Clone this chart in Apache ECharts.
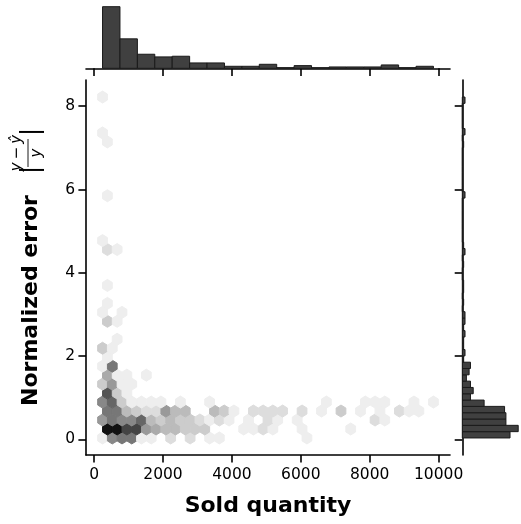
<!DOCTYPE html>
<html>
<head>
<meta charset="utf-8">
<script src="https://cdn.jsdelivr.net/npm/echarts@6/dist/echarts.min.js"></script>
<style>
  html, body { margin: 0; padding: 0; background: #ffffff; }
  #chart { width: 521px; height: 524px; }
</style>
</head>
<body>
<div id="chart"></div>
<script>
// Data extent covered by the hexagonal bins and the histograms
const xLo = 245, xHi = 9850;
const yLo = 0.032, yHi = 8.22;
const gridNx = 34, gridNy = 19;           // hexbin grid size
const hexW = (xHi - xLo) / gridNx;
const hexH = (yHi - yLo) / gridNy;

// Hex cells: [row, column, count]. Even rows sit on the main lattice,
// odd rows are shifted by half a cell in x. Row spacing is hexH / 2.
const hexCells = [
  // row 0
  [0,0,2],[0,1,8],[0,2,9],[0,3,9],[0,4,2],[0,5,2],[0,7,3],[0,9,3],[0,11,2],[0,12,2],[0,21,2],
  // row 1
  [1,0,15],[1,1,15],[1,2,12],[1,3,12],[1,4,7],[1,5,6],[1,6,5],[1,7,5],[1,8,4],[1,9,4],[1,10,4],
  [1,14,2],[1,15,2],[1,16,3],[1,17,2],[1,20,2],[1,25,2],
  // row 2
  [2,0,7],[2,1,9],[2,2,8],[2,3,8],[2,4,10],[2,5,5],[2,6,4],[2,7,5],[2,8,4],[2,9,4],[2,10,3],
  [2,11,2],[2,12,3],[2,13,2],[2,15,2],[2,17,3],[2,18,2],[2,20,2],[2,28,3],[2,29,2],
  // row 3
  [3,0,9],[3,1,9],[3,2,5],[3,3,4],[3,4,3],[3,5,3],[3,6,7],[3,7,5],[3,8,5],[3,11,5],[3,12,4],
  [3,13,2],[3,15,3],[3,16,3],[3,17,3],[3,18,3],[3,20,3],[3,22,2],[3,24,4],[3,26,2],[3,28,2],
  [3,30,3],[3,31,2],[3,32,2],
  // row 4
  [4,0,8],[4,1,10],[4,2,4],[4,3,2],[4,4,2],[4,5,2],[4,6,2],[4,8,2],[4,11,2],[4,23,2],[4,27,2],
  [4,28,2],[4,29,2],[4,32,2],[4,34,2],
  // rows 5 and up
  [5,0,11],[5,1,4],[5,2,2],
  [6,0,4],[6,1,7],[6,2,2],[6,3,2],
  [7,0,6],[7,1,2],[7,2,2],[7,4,2],
  [8,0,2],[8,1,9],
  [9,0,2],
  [10,0,4],[10,1,2],
  [11,1,2],
  [13,0,4],[13,1,2],
  [14,0,2],[14,2,2],
  [15,0,2],
  [17,0,2],
  [21,0,3],[21,1,2],
  [22,0,2],
  [27,0,2],
  [33,0,2],
  [34,0,2],
  [38,0,2]
];
const hexMaxCount = 16;

// Marginal histogram of sold quantity (19 equal bins from xLo to xHi)
const soldCounts = [92, 44, 21, 17, 18, 8, 8, 3, 3, 6, 1, 4, 1, 2, 2, 2, 5, 1, 3];

// Marginal histogram of the normalized error (54 equal bins from yLo to yHi)
const errorCounts = [
  35, 41, 32, 32, 31, 16, 6, 8, 6, 3, 5, 6, 1, 2, 1, 1, 2, 1, 2, 2,
  0, 1, 0, 1, 1, 0, 0, 1, 0, 2, 1, 0, 0, 0, 0, 0, 0, 0, 2, 0,
  0, 0, 0, 0, 0, 0, 1, 0, 2, 0, 0, 0, 0, 2
];

// Tick labels
const soldTicks = [0, 2000, 4000, 6000, 8000, 10000];
const errorTicks = [0, 2, 4, 6, 8];

// Axis limits with 5 % margins around the data extent
const xPad = 0.05 * (xHi - xLo), yPad = 0.05 * (yHi - yLo);
const xMin = xLo - xPad, xMax = xHi + xPad;
const yMin = yLo - yPad, yMax = yHi + yPad;

const hexData = hexCells.map(([r, c, n]) => [
  xLo + (c + (r % 2 ? 0.5 : 0)) * hexW,
  yLo + r * hexH / 2,
  n
]);
const soldStep = (xHi - xLo) / soldCounts.length;
const soldData = soldCounts.map((n, i) => [xLo + i * soldStep, xLo + (i + 1) * soldStep, n]);
const errStep = (yHi - yLo) / errorCounts.length;
const errData = errorCounts.map((n, i) => [yLo + i * errStep, yLo + (i + 1) * errStep, n]);

const FONT = 'DejaVu Sans';
const INK = '#000000';
const LW = 1.6;
const TICK = 7.6;
const plain = v => String(v);

const chart = echarts.init(document.getElementById('chart'), null, { renderer: 'canvas' });

const axisLine = { show: true, onZero: false, lineStyle: { color: INK, width: LW } };

chart.setOption({
  animation: false,
  backgroundColor: '#ffffff',
  grid: [
    { left: 86, top: 80, width: 364, height: 375 },      // joint
    { left: 86, top: 3.6, width: 364, height: 64.7 },    // top marginal
    { left: 462.3, top: 80, width: 64.7, height: 375 }   // right marginal
  ],
  xAxis: [
    {
      gridIndex: 0, type: 'value', min: xMin, max: xMax,
      axisLine,
      axisTick: { show: true, length: TICK, lineStyle: { color: INK, width: LW }, customValues: soldTicks },
      axisLabel: { show: true, customValues: soldTicks, formatter: plain, color: INK, fontSize: 15.5, fontFamily: FONT, margin: 12 },
      splitLine: { show: false },
      name: 'Sold quantity', nameLocation: 'middle', nameGap: 40,
      nameTextStyle: { color: INK, fontSize: 22, fontWeight: 'bold', fontFamily: FONT }
    },
    {
      gridIndex: 1, type: 'value', min: xMin, max: xMax,
      axisLine,
      axisTick: { show: true, length: TICK, lineStyle: { color: INK, width: LW }, customValues: soldTicks },
      axisLabel: { show: false },
      splitLine: { show: false }
    },
    {
      gridIndex: 2, type: 'value', min: 0, max: 1.05 * Math.max(...errorCounts), show: false
    }
  ],
  yAxis: [
    {
      gridIndex: 0, type: 'value', min: yMin, max: yMax,
      axisLine,
      axisTick: { show: true, length: TICK, lineStyle: { color: INK, width: LW }, customValues: errorTicks },
      axisLabel: { show: true, customValues: errorTicks, formatter: plain, color: INK, fontSize: 15.5, fontFamily: FONT, margin: 11 },
      splitLine: { show: false }
    },
    {
      gridIndex: 1, type: 'value', min: 0, max: 1.05 * Math.max(...soldCounts), show: false
    },
    {
      gridIndex: 2, type: 'value', min: yMin, max: yMax,
      axisLine,
      axisTick: { show: true, length: TICK, lineStyle: { color: INK, width: LW }, customValues: errorTicks },
      axisLabel: { show: false },
      splitLine: { show: false }
    }
  ],
  visualMap: {
    show: false, type: 'continuous', seriesIndex: 0, dimension: 2,
    min: 1, max: hexMaxCount,
    inRange: { color: ['#ffffff', '#000000'] }
  },
  series: [
    {
      type: 'custom', xAxisIndex: 0, yAxisIndex: 0,
      data: hexData,
      encode: { x: 0, y: 1 },
      renderItem(params, api) {
        const c = api.coord([api.value(0), api.value(1)]);
        const s = api.size([hexW, hexH]);
        const hw = s[0] / 2, h3 = s[1] / 3, h6 = s[1] / 6;
        const col = api.visual('color');
        return {
          type: 'polygon',
          shape: { points: [
            [c[0] + hw, c[1] + h6], [c[0] + hw, c[1] - h6], [c[0], c[1] - h3],
            [c[0] - hw, c[1] - h6], [c[0] - hw, c[1] + h6], [c[0], c[1] + h3]
          ] },
          style: { fill: col, stroke: col, lineWidth: 1 }
        };
      }
    },
    {
      type: 'custom', xAxisIndex: 1, yAxisIndex: 1,
      data: soldData,
      encode: { x: [0, 1], y: 2 },
      renderItem(params, api) {
        const a = api.coord([api.value(0), api.value(2)]);
        const b = api.coord([api.value(1), 0]);
        return {
          type: 'rect',
          shape: { x: a[0], y: a[1], width: b[0] - a[0], height: b[1] - a[1] },
          style: { fill: '#404040', stroke: '#1a1a1a', lineWidth: 1 }
        };
      }
    },
    {
      type: 'custom', xAxisIndex: 2, yAxisIndex: 2,
      data: errData,
      encode: { y: [0, 1], x: 2 },
      renderItem(params, api) {
        const a = api.coord([0, api.value(1)]);
        const b = api.coord([api.value(2), api.value(0)]);
        return {
          type: 'rect',
          shape: { x: a[0], y: a[1], width: b[0] - a[0], height: b[1] - a[1] },
          style: { fill: '#404040', stroke: '#1a1a1a', lineWidth: 1 }
        };
      }
    }
  ],
  graphic: [
    {
      // vertical axis title: bold words followed by |(y - ŷ) / y|
      type: 'group', x: 31, y: 267, rotation: Math.PI / 2,
      children: [
        { type: 'text', x: -139, y: 0, style: {
          text: 'Normalized error', fill: INK, fontSize: 22, fontWeight: 'bold', fontFamily: FONT,
          align: 'left', verticalAlign: 'middle' } },
        { type: 'text', x: 93, y: 1, style: {
          text: '|', fill: INK, fontSize: 24, fontFamily: FONT, align: 'left', verticalAlign: 'middle' } },
        { type: 'text', x: 114, y: -6, style: {
          text: 'y\u2009\u2212\u2009\u0177', fill: INK, fontSize: 15, fontStyle: 'italic', fontFamily: FONT,
          align: 'center', verticalAlign: 'bottom' } },
        { type: 'line', shape: { x1: 100, y1: -3, x2: 128, y2: -3 }, style: { stroke: INK, lineWidth: 0.9 } },
        { type: 'text', x: 114, y: -1, style: {
          text: 'y', fill: INK, fontSize: 15, fontStyle: 'italic', fontFamily: FONT,
          align: 'center', verticalAlign: 'top' } },
        { type: 'text', x: 131, y: 1, style: {
          text: '|', fill: INK, fontSize: 24, fontFamily: FONT, align: 'left', verticalAlign: 'middle' } }
      ]
    }
  ]
});
</script>
</body>
</html>
